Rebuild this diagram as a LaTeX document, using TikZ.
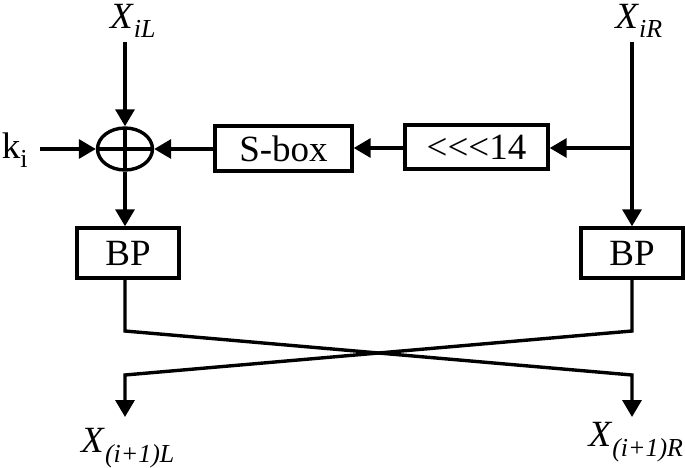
\documentclass[tikz,border=0pt]{standalone}
\usepackage{fontspec}
\setmainfont{Liberation Serif}
\usetikzlibrary{arrows.meta,shapes.geometric,calc}
\begin{document}
\begin{tikzpicture}[x=1pt,y=-1pt,
  line width=3.4pt,
  >={Triangle[width=19pt,length=17pt]},
  lbl/.style={inner sep=0pt,font=\fontsize{37}{42}\selectfont},
  blk/.style={draw,line width=3.4pt,rectangle,inner sep=0pt,font=\fontsize{37}{42}\selectfont},
  xorop/.style={draw,line width=3.4pt,ellipse,inner sep=0pt,minimum width=55pt,minimum height=42pt,
    path picture={\draw[line width=3.4pt] (path picture bounding box.north) -- (path picture bounding box.south)
      (path picture bounding box.west) -- (path picture bounding box.east);}}
]
\useasboundingbox (0,0) rectangle (685,468);
% labels
\node[lbl] (xil) at (133,21) {\textit{X}\textsubscript{\textit{iL}}};
\node[lbl] (xir) at (639,21) {\textit{X}\textsubscript{\textit{iR}}};
\node[lbl] (ki) at (15,150) {k\textsubscript{i}};
\node[lbl] (xl1) at (128,448) {\textit{X}\textsubscript{\textit{(i+1)L}}};
\node[lbl] (xr1) at (636,442) {\textit{X}\textsubscript{\textit{(i+1)R}}};
% blocks
\node[xorop] (xor) at (125,149) {};
\node[blk,minimum width=137pt,minimum height=45pt] (sbox) at (283.5,148.5) {S-box};
\node[blk,minimum width=143pt,minimum height=44pt] (rot) at (476.5,147) {<{}<{}<14};
\node[blk,minimum width=102pt,minimum height=50pt] (bpl) at (128,253) {BP};
\node[blk,minimum width=102pt,minimum height=50pt] (bpr) at (632,253) {BP};
% coordinates
\coordinate (tl) at (125,42);
\coordinate (tr) at (632,42);
\coordinate (kin) at (40,149);
\coordinate (br) at (632,148);
\coordinate (l1) at (125,331);
\coordinate (r1) at (632,331);
\coordinate (l2) at (125,375);
\coordinate (r2) at (632,375);
\coordinate (lo) at (125,417);
\coordinate (ro) at (632,417);
% connectors
\draw[->] (tl) -- (xor.north);
\draw[->] (kin) -- (xor.west);
\draw[->] (sbox.west |- xor) -- (xor.east);
\draw[->] (rot.west |- br) -- (sbox.east |- br);
\draw[->] (br) -- (rot.east |- br);
\draw[->] (tr) -- (bpr.north);
\draw[->] (xor.south) -- (xor |- bpl.north);
\draw[->,line join=miter] (xor |- bpl.south) -- (l1) -- (r2) -- (ro);
\draw[->,line join=miter] (bpr.south) -- (r1) -- (l2) -- (lo);
\end{tikzpicture}
\end{document}
